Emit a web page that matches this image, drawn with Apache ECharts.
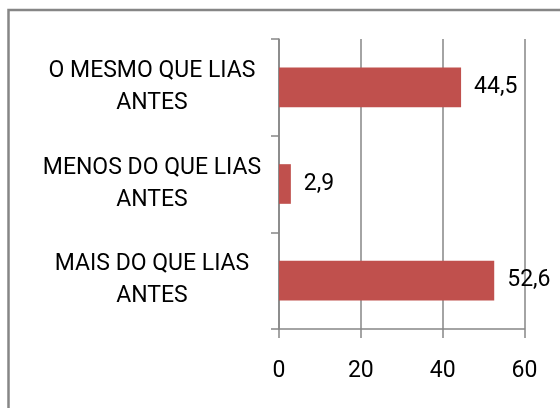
<!DOCTYPE html>
<html>
<head>
<meta charset="utf-8">
<style>
  html, body { margin: 0; padding: 0; background: #fff; }
  #chart { width: 560px; height: 408px; }
</style>
<script src="https://cdn.jsdelivr.net/npm/echarts@6/dist/echarts.min.js"></script>
</head>
<body>
<div id="chart"></div>
<script>
// categories bottom -> top (ECharts category y axis starts at bottom)
const categories = ['MAIS DO QUE LIAS\nANTES', 'MENOS DO QUE LIAS\nANTES', 'O MESMO QUE LIAS\nANTES']
const values = [52.6, 2.9, 44.5]
const xTicks = [0, 20, 40, 60]

const gray = '#868686'
const font = 'Roboto'

const myChart = echarts.init(document.getElementById('chart'))

const options = {
  animation: false,
  backgroundColor: '#fff',
  graphic: [{
    type: 'rect',
    shape: { x: 8.5, y: 10, width: 600, height: 450 },
    style: { fill: 'none', stroke: gray, lineWidth: 2.5 },
    silent: true
  }],
  grid: { left: 279, right: 35.5, top: 39, bottom: 79 },
  xAxis: {
    type: 'value',
    min: xTicks[0],
    max: xTicks[xTicks.length - 1],
    interval: 20,
    axisLine: { show: true, lineStyle: { color: gray, width: 1.5 } },
    axisTick: { show: true, length: 9, lineStyle: { color: gray, width: 1.5 } },
    splitLine: { show: true, lineStyle: { color: gray, width: 1.5 } },
    axisLabel: { color: '#000', fontFamily: font, fontSize: 23, margin: 31 }
  },
  yAxis: {
    type: 'category',
    data: categories,
    axisLine: { show: true, lineStyle: { color: gray, width: 1.5 } },
    axisTick: { show: true, length: 8, lineStyle: { color: gray, width: 1.5 } },
    axisLabel: {
      color: '#000', fontFamily: font, fontSize: 23,
      lineHeight: 32, align: 'center', margin: 127
    }
  },
  series: [{
    type: 'bar',
    data: values,
    barCategoryGap: '59%',
    itemStyle: { color: '#C0504D' },
    label: {
      show: true,
      position: 'right',
      distance: 13,
      color: '#000',
      fontFamily: font,
      fontSize: 23,
      formatter: (p) => String(p.value).replace('.', ',')
    }
  }]
}
myChart.setOption(options)
</script>
</body>
</html>
